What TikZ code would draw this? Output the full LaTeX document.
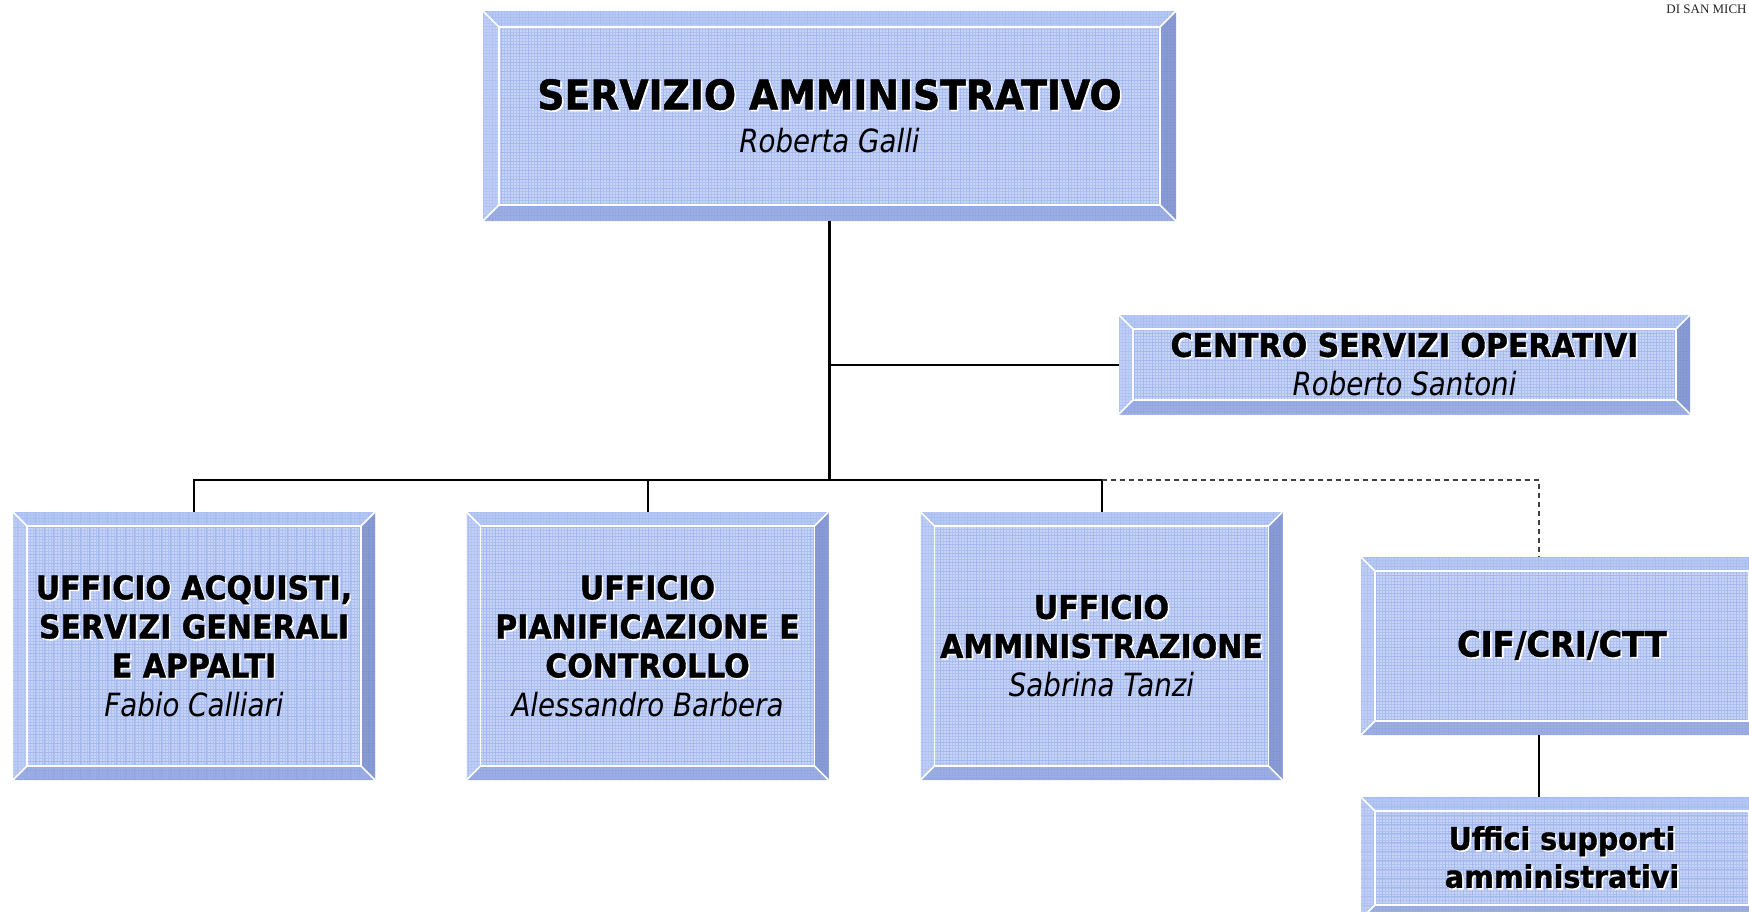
\documentclass[tikz,border=0pt]{standalone}
\usepackage{fontspec}
\setmainfont{DejaVu Sans}[UprightFeatures={FakeStretch=0.92},BoldFeatures={FakeStretch=0.92,FakeBold=1.2},ItalicFeatures={FakeStretch=0.865},BoldItalicFeatures={FakeStretch=0.865}]
\newfontfamily\serifx{Liberation Serif}
\usetikzlibrary{calc}
\definecolor{face}{RGB}{199,212,246}
\definecolor{gridc}{RGB}{163,184,238}
\definecolor{bvtop}{RGB}{172,192,242}
\definecolor{bvleft}{RGB}{186,203,246}
\definecolor{bvright}{RGB}{118,138,202}
\definecolor{bvbot}{RGB}{140,160,218}
\newcommand\bevelpic[1]{%
  \path (path picture bounding box.north west) coordinate (pNW)
        (path picture bounding box.north east) coordinate (pNE)
        (path picture bounding box.south west) coordinate (pSW)
        (path picture bounding box.south east) coordinate (pSE);
  \path ($(pNW)+(#1,-#1)$) coordinate (qNW) ($(pNE)+(-#1,-#1)$) coordinate (qNE)
        ($(pSW)+(#1,#1)$) coordinate (qSW) ($(pSE)+(-#1,#1)$) coordinate (qSE);
  \draw[gridc!70!face, line width=0.25pt, step=1.5pt] (pSW) grid (pNE);
  \draw[gridc, line width=0.35pt, step=4.5pt] (pSW) grid (pNE);
  \fill[bvtop, opacity=0.55] (pNW) -- (pNE) -- (qNE) -- (qNW) -- cycle;
  \fill[bvleft, opacity=0.45] (pNW) -- (qNW) -- (qSW) -- (pSW) -- cycle;
  \fill[bvright, opacity=0.75] (pNE) -- (qNE) -- (qSE) -- (pSE) -- cycle;
  \fill[bvbot, opacity=0.7] (pSW) -- (qSW) -- (qSE) -- (pSE) -- cycle;
  \draw[white, line width=0.8pt] (qNW) rectangle (qSE);
  \draw[white, line width=0.8pt] (pNW) -- (qNW) (pNE) -- (qNE) (pSW) -- (qSW) (pSE) -- (qSE);
}
\newcommand\shd[1]{\leavevmode\rlap{\kern0.8pt\raisebox{-0.8pt}{\textcolor{white}{#1}}}#1}
\newcommand\ttl[2]{{\fontsize{#1}{#1}\selectfont\bfseries\shd{#2}}}
\newcommand\nm[1]{{\itshape #1}}
\tikzset{
  bx/.style={draw=none, fill=face, inner sep=0pt, align=center, text=black,
    path picture={\bevelpic{#1}}, font=\fontsize{16}{19.5}\selectfont},
  bx/.default=7pt,
  conn/.style={draw=black, line width=1pt},
  dsh/.style={draw=black!75, line width=0.6pt, dash pattern=on 2.5pt off 2pt}
}
\begin{document}
\begin{tikzpicture}[x=0.5pt, y=-0.5pt]
\useasboundingbox (0,0) rectangle (1749,911);
\clip (0,0) rectangle (1749,911);
\fill[white] (0,0) rectangle (1749,911);

\node[bx=8pt, minimum width=346.5pt, minimum height=105pt, font=\fontsize{16}{21.5}\selectfont] (top) at (829.5,116)
  {\ttl{20.5}{SERVIZIO AMMINISTRATIVO}\\\nm{Roberta Galli}};
\node[bx, minimum width=285.5pt, minimum height=49.5pt] (cso) at (1404.5,364.5)
  {\ttl{16.3}{CENTRO SERVIZI OPERATIVI}\\\nm{Roberto Santoni}};
\node[bx, minimum width=181pt, minimum height=134pt] (b1) at (194,646)
  {\ttl{16.3}{UFFICIO ACQUISTI,}\\\ttl{16.3}{SERVIZI GENERALI}\\\ttl{16.3}{E APPALTI}\\\nm{Fabio Calliari}};
\node[bx, minimum width=181pt, minimum height=134pt] (b2) at (647.5,646)
  {\ttl{16.3}{UFFICIO}\\\ttl{16.3}{PIANIFICAZIONE E}\\\ttl{16.3}{CONTROLLO}\\\nm{Alessandro Barbera}};
\node[bx, minimum width=181pt, minimum height=134pt] (b3) at (1101.5,646)
  {\ttl{16.3}{UFFICIO}\\\ttl{16.3}{AMMINISTRAZIONE}\\\nm{Sabrina Tanzi}};
\node[bx, minimum width=201pt, minimum height=89pt] (cif) at (1562,646)
  {\ttl{17.5}{CIF/CRI/CTT}};
\node[bx, minimum width=201pt, minimum height=61pt, font=\fontsize{15.5}{19}\selectfont] (uff) at (1562,858)
  {\ttl{15.5}{Uffici supporti}\\\ttl{15.5}{amministrativi}};

\node[font=\serifx\fontsize{6.5}{7}\selectfont, anchor=west, text=black!85, inner sep=0pt] (hdr) at (1666,9) {DI SAN MICH};

\coordinate (bus) at (829.5,480);
\coordinate (dz) at (1539,480);
\draw[conn, line width=1.4pt] (top.south) -- (bus);
\draw[conn] (top.south |- cso.west) -- (cso.west);
\draw[conn] (b1.north) |- (bus);
\draw[conn] (b3.north) |- (bus);
\draw[conn] (b2.north) -- (b2.north |- bus);
\draw[dsh] (b3.north |- bus) -- (dz) -- (dz |- cif.north);
\draw[conn] (cif.south -| dz) -- (uff.north -| dz);
\end{tikzpicture}
\end{document}
